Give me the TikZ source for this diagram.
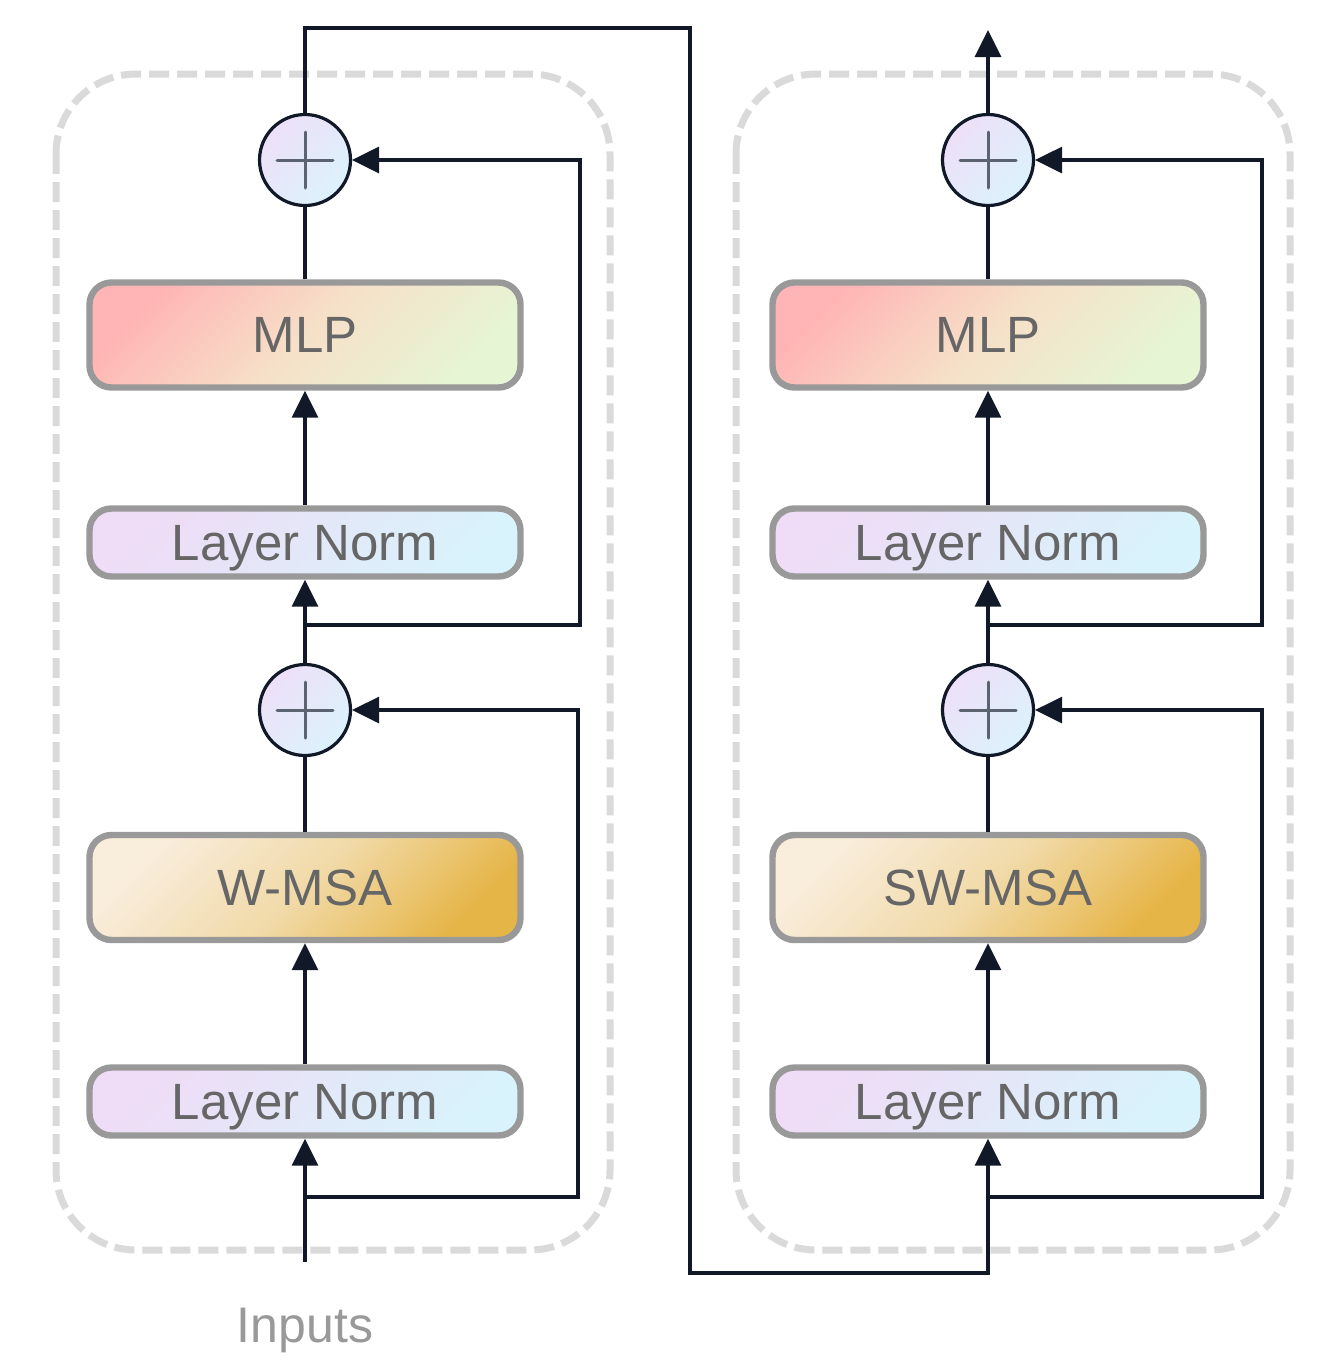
\documentclass[tikz,border=0pt]{standalone}
\usepackage{fontspec}
\setmainfont{Liberation Sans}
\usetikzlibrary{arrows.meta,calc}
\definecolor{lineC}{HTML}{111827}
\definecolor{boxB}{HTML}{999999}
\definecolor{txtC}{HTML}{666666}
\definecolor{panelC}{HTML}{DADADA}
\definecolor{plusC}{HTML}{5B6270}
\definecolor{mlpA}{HTML}{FFB5B5}
\definecolor{mlpM}{HTML}{F6E0C8}
\definecolor{mlpB}{HTML}{E6F5D4}
\definecolor{msaA}{HTML}{F9EDDC}
\definecolor{msaM}{HTML}{F1DAA8}
\definecolor{msaB}{HTML}{E6B548}
\definecolor{lnA}{HTML}{EFDCF6}
\definecolor{lnB}{HTML}{D8F3FB}
\definecolor{ciA}{HTML}{EDE0F8}
\definecolor{ciB}{HTML}{DCF2FC}
\tikzset{
  blockbox/.style={draw=boxB, line width=3.2pt, rounded corners=11pt, inner sep=0pt,
    minimum width=215.5pt, text=txtC, text depth=0pt, font=\fontsize{25.5}{30}\selectfont},
  mlpbox/.style={blockbox, minimum height=52.5pt, top color=mlpA, bottom color=mlpB, middle color=mlpM, shading angle=45},
  msabox/.style={blockbox, minimum height=52.5pt, top color=msaA, bottom color=msaB, middle color=msaM, shading angle=45},
  lnbox/.style={blockbox, minimum height=34pt, top color=lnA, bottom color=lnB, shading angle=45},
  addcirc/.style={circle, draw=lineC, line width=1.6pt, minimum size=45.5pt, inner sep=0pt,
    top color=ciA, bottom color=ciB, shading angle=45,
    path picture={\draw[draw=plusC, line width=1.5pt, line cap=round]
      ($(path picture bounding box.center)+(-14pt,0)$) -- ($(path picture bounding box.center)+(14pt,0)$)
      ($(path picture bounding box.center)+(0,-14pt)$) -- ($(path picture bounding box.center)+(0,14pt)$);}},
  conn/.style={draw=lineC, line width=1.6pt},
  arr/.style={conn, -{Triangle[length=13.5pt,width=13pt]}},
  panel/.style={draw=panelC, line width=3.5pt, dash pattern=on 10pt off 4pt, rounded corners=40pt},
}
\begin{document}
\begin{tikzpicture}[x=0.5pt,y=-0.5pt]
\useasboundingbox (0,0) rectangle (1339,1366);
% panels
\draw[panel] (56,74) rectangle (610,1250);
\draw[panel] (736,74) rectangle (1290,1250);
% left column
\node[lnbox]  (ln0) at (305,1101.5) {Layer Norm};
\node[msabox] (msa) at (305,887.5) {W-MSA};
\node[addcirc] (c1) at (305,710) {};
\node[lnbox]  (ln1) at (305,542.5) {Layer Norm};
\node[mlpbox] (mlp) at (305,335) {MLP};
\node[addcirc] (c2) at (305,160) {};
% right column
\node[lnbox]  (rln0) at (988,1101.5) {Layer Norm};
\node[msabox] (rmsa) at (988,887.5) {SW-MSA};
\node[addcirc] (c3) at (988,710) {};
\node[lnbox]  (rln1) at (988,542.5) {Layer Norm};
\node[mlpbox] (rmlp) at (988,335) {MLP};
\node[addcirc] (c4) at (988,160) {};
% inputs
\node[text=boxB, text depth=0pt, font=\fontsize{25}{30}\selectfont] (inp) at (305,1325) {Inputs};
\coordinate (in0) at (305,1262);
\coordinate (s0) at (305,1197);
\coordinate (s0r) at (578,710);
\coordinate (s1) at (305,625);
\coordinate (s1r) at (580,160);
\coordinate (t1) at (690,28);
\coordinate (b1) at (690,1273);
\coordinate (rs0) at (988,1197);
\coordinate (rs0r) at (1262,710);
\coordinate (rs1) at (988,625);
\coordinate (rs1r) at (1262,160);
\coordinate (out) at (988,30);
% left connectors
\draw[arr] (in0) -- (ln0.south);
\draw[arr] (ln0.north) -- (msa.south);
\draw[conn] (msa.north) -- (c1.south);
\draw[arr] (s0) -| (s0r) -- (c1.east);
\draw[arr] (c1.north) -- (ln1.south);
\draw[arr] (ln1.north) -- (mlp.south);
\draw[conn] (mlp.north) -- (c2.south);
\draw[arr] (s1) -| (s1r) -- (c2.east);
% link between blocks
\draw[arr] (c2.north) |- (t1) -- (b1) -| (rln0.south);
% right connectors
\draw[arr] (rln0.north) -- (rmsa.south);
\draw[conn] (rmsa.north) -- (c3.south);
\draw[arr] (rs0) -| (rs0r) -- (c3.east);
\draw[arr] (c3.north) -- (rln1.south);
\draw[arr] (rln1.north) -- (rmlp.south);
\draw[conn] (rmlp.north) -- (c4.south);
\draw[arr] (rs1) -| (rs1r) -- (c4.east);
\draw[arr] (c4.north) -- (out);
\end{tikzpicture}
\end{document}
